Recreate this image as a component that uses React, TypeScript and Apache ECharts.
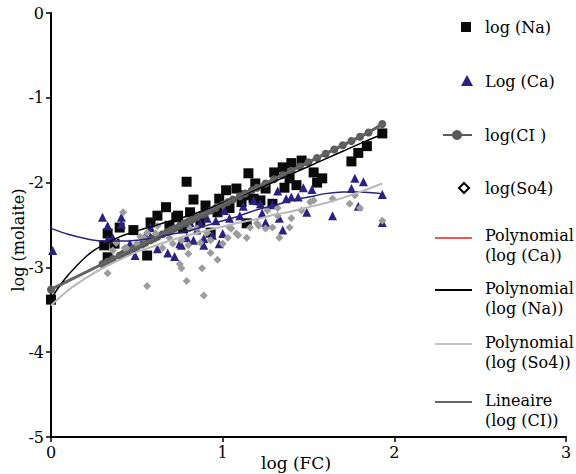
import React, { useEffect, useRef } from "react";
import * as echarts from "echarts";

// ---- data ----
const naX = [0.00, 0.33, 0.31, 0.33, 0.37, 0.40, 0.48, 0.56, 0.58, 0.62, 0.67, 0.73, 0.74, 0.79, 0.81, 0.83, 0.90, 0.93, 0.97, 1.02, 1.04, 1.08, 1.11, 1.14, 1.15, 1.18, 1.19, 1.25, 1.29, 1.30, 1.35, 1.36, 1.40, 1.43, 1.46, 1.53, 1.55, 1.75, 1.79, 1.84, 1.93, 0.69, 0.87, 0.77, 1.22, 1.39, 1.13, 0.98, 1.58];
const naY = [-3.38, -2.60, -2.74, -2.88, -2.72, -2.53, -2.56, -2.86, -2.47, -2.39, -2.29, -2.41, -2.39, -1.99, -2.35, -2.20, -2.27, -2.59, -2.35, -2.09, -2.30, -2.07, -2.23, -2.48, -1.89, -2.19, -2.01, -2.07, -2.25, -1.88, -1.82, -2.06, -1.77, -2.03, -1.74, -1.88, -2.00, -1.75, -1.65, -1.57, -1.42, -2.51, -2.45, -2.54, -2.21, -1.95, -2.15, -2.19, -1.95];

const caX = [0.01, 0.30, 0.33, 0.41, 0.41, 0.36, 0.33, 0.46, 0.49, 0.58, 0.55, 0.62, 0.68, 0.72, 0.75, 0.83, 0.89, 0.94, 1.00, 1.01, 1.04, 0.81, 0.87, 0.91, 0.96, 0.79, 0.76, 0.89, 0.98, 0.85, 1.12, 1.18, 0.58, 1.77, 1.82, 1.75, 1.93, 1.64, 1.79, 1.49, 1.35, 1.33, 1.25, 1.23, 1.32, 1.47, 1.52, 1.40, 1.44, 1.37, 1.29, 1.22, 1.93, 1.10];
const caY = [-2.80, -2.41, -2.51, -2.41, -2.49, -2.65, -2.67, -2.72, -2.86, -2.53, -2.62, -2.78, -2.83, -2.87, -2.72, -2.68, -2.66, -2.62, -2.60, -2.33, -2.42, -2.47, -2.48, -2.42, -2.45, -2.65, -2.74, -2.74, -2.72, -2.56, -2.28, -2.21, -2.64, -1.95, -1.99, -2.07, -2.14, -2.39, -2.28, -2.35, -2.56, -2.42, -2.47, -2.36, -2.10, -2.06, -2.08, -2.17, -2.17, -2.19, -2.26, -2.25, -2.47, -2.39];

const clX = [0, 0.30, 0.33, 0.36, 0.40, 0.42, 0.45, 0.48, 0.50, 0.53, 0.55, 0.58, 0.60, 0.62, 0.65, 0.68, 0.70, 0.72, 0.75, 0.78, 0.80, 0.82, 0.85, 0.88, 0.90, 0.93, 0.96, 1.00, 1.03, 1.06, 1.10, 1.13, 1.17, 1.20, 1.25, 1.30, 1.35, 1.40, 1.45, 1.50, 1.55, 1.60, 1.65, 1.70, 1.75, 1.80, 1.85, 1.93];
const clY = [-3.26, -2.96, -2.93, -2.90, -2.86, -2.84, -2.81, -2.78, -2.76, -2.73, -2.71, -2.68, -2.66, -2.64, -2.61, -2.58, -2.56, -2.54, -2.51, -2.48, -2.46, -2.44, -2.41, -2.38, -2.36, -2.33, -2.30, -2.26, -2.23, -2.20, -2.16, -2.13, -2.09, -2.06, -2.01, -1.96, -1.91, -1.86, -1.81, -1.76, -1.71, -1.66, -1.61, -1.56, -1.51, -1.46, -1.41, -1.31];

const so4X = [0.42, 0.33, 0.56, 0.75, 0.76, 0.79, 0.88, 0.89, 0.93, 0.97, 0.80, 0.71, 0.65, 0.61, 0.54, 0.50, 0.44, 0.38, 0.56, 0.62, 0.85, 0.91, 1.03, 1.08, 1.00, 1.04, 0.36, 0.43, 0.52, 0.80, 0.87, 0.93, 1.09, 1.14, 1.16, 1.20, 1.05, 0.81, 0.76, 0.69, 1.33, 1.29, 1.25, 1.21, 1.39, 1.40, 1.51, 1.64, 1.74, 1.80, 1.93, 1.77, 1.46, 1.32, 1.26, 1.32, 1.53];
const so4Y = [-2.35, -3.07, -3.22, -2.96, -3.01, -3.16, -3.01, -3.33, -2.83, -2.91, -2.84, -2.72, -2.77, -2.60, -2.65, -2.72, -2.77, -2.71, -2.59, -2.51, -2.54, -2.59, -2.65, -2.60, -2.72, -2.53, -2.80, -2.77, -2.64, -2.74, -2.71, -2.68, -2.62, -2.65, -2.53, -2.48, -2.54, -2.54, -2.68, -2.65, -2.65, -2.53, -2.54, -2.51, -2.53, -2.42, -2.23, -2.19, -2.25, -2.30, -2.45, -2.15, -2.33, -2.30, -2.33, -2.39, -2.21];

// trend lines
const caFitX = [0, 0.1, 0.2, 0.3, 0.4, 0.5, 0.6, 0.7, 0.8, 0.9, 1.0, 1.1, 1.2, 1.3, 1.4, 1.5, 1.6, 1.7, 1.8, 1.93];
const caFitY = [-2.54, -2.61, -2.66, -2.69, -2.69, -2.68, -2.65, -2.61, -2.57, -2.51, -2.45, -2.39, -2.32, -2.27, -2.21, -2.17, -2.13, -2.11, -2.11, -2.13];
const naFitX = [0, 0.05, 0.1, 0.15, 0.2, 0.25, 0.3, 0.4, 0.5, 0.6, 0.7, 0.8, 0.9, 1.0, 1.1, 1.2, 1.3, 1.4, 1.5, 1.6, 1.7, 1.8, 1.93];
const naFitY = [-3.37, -3.22, -3.09, -2.98, -2.88, -2.80, -2.74, -2.64, -2.57, -2.51, -2.45, -2.39, -2.32, -2.24, -2.16, -2.08, -1.99, -1.90, -1.81, -1.72, -1.63, -1.54, -1.43];
const so4FitX = [0, 0.1, 0.2, 0.3, 0.4, 0.5, 0.6, 0.7, 0.8, 0.9, 1.0, 1.1, 1.2, 1.3, 1.4, 1.5, 1.6, 1.7, 1.8, 1.93];
const so4FitY = [-3.45, -3.27, -3.13, -3.01, -2.91, -2.82, -2.75, -2.68, -2.62, -2.57, -2.52, -2.47, -2.43, -2.38, -2.34, -2.29, -2.24, -2.18, -2.11, -2.01];
const clFitX = [0, 1.95];
const clFitY = [-3.26, -1.30];

const legendLabels = ["log (Na)", "Log (Ca)", "log(CI )", "log(So4)"];
const fitLabels = ["Polynomial\n(log (Ca))", "Polynomial\n(log (Na))", "Polynomial\n(log (So4))", "Lineaire\n(log (CI))"];

const zip = (xs: number[], ys: number[]) => xs.map((x, i) => [x, ys[i]]);

const SERIF = "DejaVu Serif";
const NAVY = "#2b2180";
const CL = "#5a5a5a";
const SO4 = "#9c9c9c";
const SO4FIT = "#b8b8b8";

function txt(text: string, x: number, y: number, size = 16, lineHeight = 20) {
  return {
    type: "text",
    x,
    y,
    silent: true,
    style: {
      text,
      fill: "#000",
      fontSize: size,
      fontFamily: SERIF,
      lineHeight,
      textAlign: "left",
      textVerticalAlign: "middle",
    },
  };
}

export default function App() {
  const ref = useRef<HTMLDivElement>(null);
  useEffect(() => {
    const chart = echarts.init(ref.current as HTMLDivElement, null, { renderer: "svg" });
    const tx = 485;
    const graphic: any[] = [
      { type: "rect", shape: { x: 461, y: 22, width: 10, height: 10 }, style: { fill: "#0a0a0a" } },
      txt(legendLabels[0], tx, 27),
      { type: "polygon", shape: { points: [[467, 75], [473, 86], [461, 86]] }, style: { fill: NAVY } },
      txt(legendLabels[1], tx, 81),
      { type: "line", shape: { x1: 443, y1: 135, x2: 472, y2: 135 }, style: { stroke: CL, lineWidth: 2 } },
      { type: "circle", shape: { cx: 457, cy: 135, r: 5 }, style: { fill: CL } },
      txt(legendLabels[2], tx, 135),
      { type: "polygon", shape: { points: [[464, 183], [469, 188], [464, 193], [459, 188]] }, style: { fill: "#fff", stroke: "#000", lineWidth: 2 } },
      txt(legendLabels[3], tx, 188),
      { type: "line", shape: { x1: 435, y1: 238, x2: 472, y2: 238 }, style: { stroke: "#e8211f", lineWidth: 1.5 } },
      txt(fitLabels[0], tx, 245),
      { type: "line", shape: { x1: 435, y1: 290, x2: 472, y2: 290 }, style: { stroke: "#000", lineWidth: 2 } },
      txt(fitLabels[1], tx, 298),
      { type: "line", shape: { x1: 435, y1: 344, x2: 472, y2: 344 }, style: { stroke: "#c4c4c4", lineWidth: 2 } },
      txt(fitLabels[2], tx, 352),
      { type: "line", shape: { x1: 435, y1: 402, x2: 472, y2: 402 }, style: { stroke: "#666", lineWidth: 2 } },
      txt(fitLabels[3], tx, 410),
      {
        type: "text",
        x: 18,
        y: 240,
        rotation: Math.PI / 2,
        silent: true,
        style: { text: "log (molaite)", fill: "#000", fontSize: 16, fontFamily: SERIF, textAlign: "center", textVerticalAlign: "middle" },
      },
      {
        type: "text",
        x: 296,
        y: 463,
        silent: true,
        style: { text: "log (FC)", fill: "#000", fontSize: 17, fontFamily: SERIF, textAlign: "center", textVerticalAlign: "middle" },
      },
    ];

    const axisCommon = {
      type: "value",
      splitLine: { show: false },
      axisLine: { show: true, onZero: false, lineStyle: { color: "#000", width: 2 } },
      axisTick: { show: true, inside: false, length: 5, lineStyle: { color: "#000", width: 1.5 } },
      axisLabel: { color: "#000", fontSize: 16, fontFamily: SERIF },
    };

    chart.setOption({
      animation: false,
      backgroundColor: "#fff",
      textStyle: { fontFamily: SERIF },
      grid: { left: 51, right: 10, top: 13, bottom: 37, containLabel: false },
      xAxis: { ...axisCommon, min: 0, max: 3, interval: 1, axisLabel: { ...axisCommon.axisLabel, margin: 7 } },
      yAxis: { ...axisCommon, min: -5, max: 0, interval: 1, axisLabel: { ...axisCommon.axisLabel, margin: 7 } },
      series: [
        { name: "log (Na)", type: "scatter", symbol: "rect", symbolSize: 10, itemStyle: { color: "#0a0a0a", opacity: 1 }, data: zip(naX, naY), z: 2 },
        { name: "Log (Ca)", type: "scatter", symbol: "triangle", symbolSize: 9, itemStyle: { color: NAVY, opacity: 1 }, data: zip(caX, caY), z: 3 },
        { name: "log(CI )", type: "line", symbol: "circle", symbolSize: 8, showSymbol: true, itemStyle: { color: CL, opacity: 1 }, lineStyle: { color: CL, width: 3 }, data: zip(clX, clY), z: 4 },
        { name: "log(So4)", type: "scatter", symbol: "diamond", symbolSize: 8, itemStyle: { color: SO4, opacity: 1 }, data: zip(so4X, so4Y), z: 5 },
        { name: "Polynomial (log (Ca))", type: "line", showSymbol: false, smooth: 0.3, lineStyle: { color: NAVY, width: 1.5 }, itemStyle: { color: NAVY }, data: zip(caFitX, caFitY), z: 6 },
        { name: "Polynomial (log (Na))", type: "line", showSymbol: false, smooth: 0.3, lineStyle: { color: "#000", width: 1.5 }, itemStyle: { color: "#000" }, data: zip(naFitX, naFitY), z: 6 },
        { name: "Polynomial (log (So4))", type: "line", showSymbol: false, smooth: 0.3, lineStyle: { color: SO4FIT, width: 2 }, itemStyle: { color: SO4FIT }, data: zip(so4FitX, so4FitY), z: 6 },
        { name: "Lineaire (log (CI))", type: "line", showSymbol: false, lineStyle: { color: "#666", width: 2 }, itemStyle: { color: "#666" }, data: zip(clFitX, clFitY), z: 6 },
      ],
      graphic,
    });
    return () => chart.dispose();
  }, []);
  return <div ref={ref} style={{ position: "fixed", left: 0, top: 0, width: 576, height: 474, background: "#fff" }} />;
}
